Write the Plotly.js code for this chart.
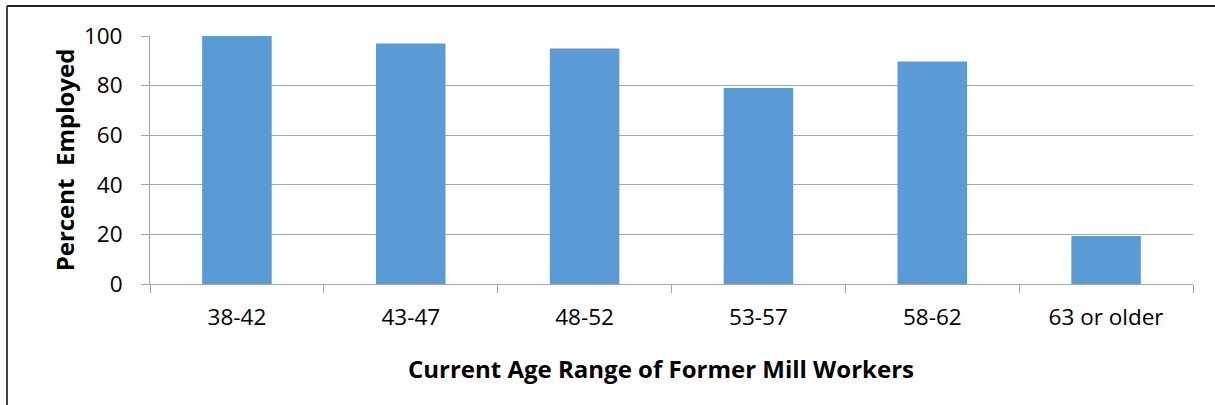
<!DOCTYPE html>
<html>
<head>
<meta charset="utf-8">
<script src="https://cdn.plot.ly/plotly-3.0.1.min.js"></script>
<style>
html,body{margin:0;padding:0;background:#fff;}
#chart{width:1215px;height:405px;}
</style>
</head>
<body>
<div id="chart"></div>
<script>
const categories = ["38-42", "43-47", "48-52", "53-57", "58-62", "63 or older"];
const percentEmployed = [100, 97, 95, 79, 89.7, 19.4];
const yTicks = [0, 20, 40, 60, 80, 100];
const xTitle = "Current Age Range of Former Mill Workers";
const yTitle = "Percent  Employed";

const W = 1215, H = 405;
const mL = 150, mR = 22, mT = 36, mB = 121;
const pw = W - mL - mR, ph = H - mT - mB;
const px = x => (x - mL) / pw;
const py = y => (H - mB - y) / ph;

const font = "Open Sans, Noto Sans, sans-serif";

const trace = {
  type: "bar",
  x: categories,
  y: percentEmployed,
  marker: {color: "#5B9BD5"},
  hoverinfo: "x+y"
};

const layout = {
  width: W, height: H,
  margin: {l: mL, r: mR, t: mT, b: mB, pad: 0},
  paper_bgcolor: "#fff",
  plot_bgcolor: "#fff",
  bargap: 0.6,
  showlegend: false,
  font: {family: font, color: "#000", size: 22},
  xaxis: {
    type: "category",
    tickson: "boundaries",
    ticks: "outside",
    ticklen: 8,
    tickcolor: "#A6A6A6",
    tickwidth: 1,
    showline: true,
    linecolor: "#A6A6A6",
    linewidth: 1,
    showgrid: false,
    ticklabelstandoff: 13,
    tickfont: {family: font, size: 22.5, color: "#000"}
  },
  yaxis: {
    range: [0, 100],
    tickvals: yTicks,
    ticktext: yTicks.map(String),
    ticks: "outside",
    ticklen: 8,
    tickcolor: "#A6A6A6",
    showline: true,
    linecolor: "#A6A6A6",
    linewidth: 1,
    showgrid: true,
    gridcolor: "#A6A6A6",
    gridwidth: 1,
    zeroline: false,
    ticklabelstandoff: 14,
    tickfont: {family: font, size: 22.5, color: "#000"},
    title: {text: "<b>" + yTitle + "</b>", font: {family: font, size: 24, color: "#000"}, standoff: 2}
  },
  annotations: [
    {text: "<b>" + xTitle + "</b>", xref: "paper", yref: "paper", x: px(661), y: py(368),
     xanchor: "center", yanchor: "middle", showarrow: false,
     font: {family: font, size: 24, color: "#000"}}
  ],
  shapes: [
    {type: "line", xref: "paper", yref: "paper", x0: px(7), x1: px(1215), y0: py(6), y1: py(6), line: {color: "#222", width: 2}},
    {type: "line", xref: "paper", yref: "paper", x0: px(7), x1: px(7), y0: py(6), y1: py(405), line: {color: "#444", width: 2}}
  ]
};

Plotly.newPlot("chart", [trace], layout, {displayModeBar: false, staticPlot: true});
</script>
</body>
</html>
